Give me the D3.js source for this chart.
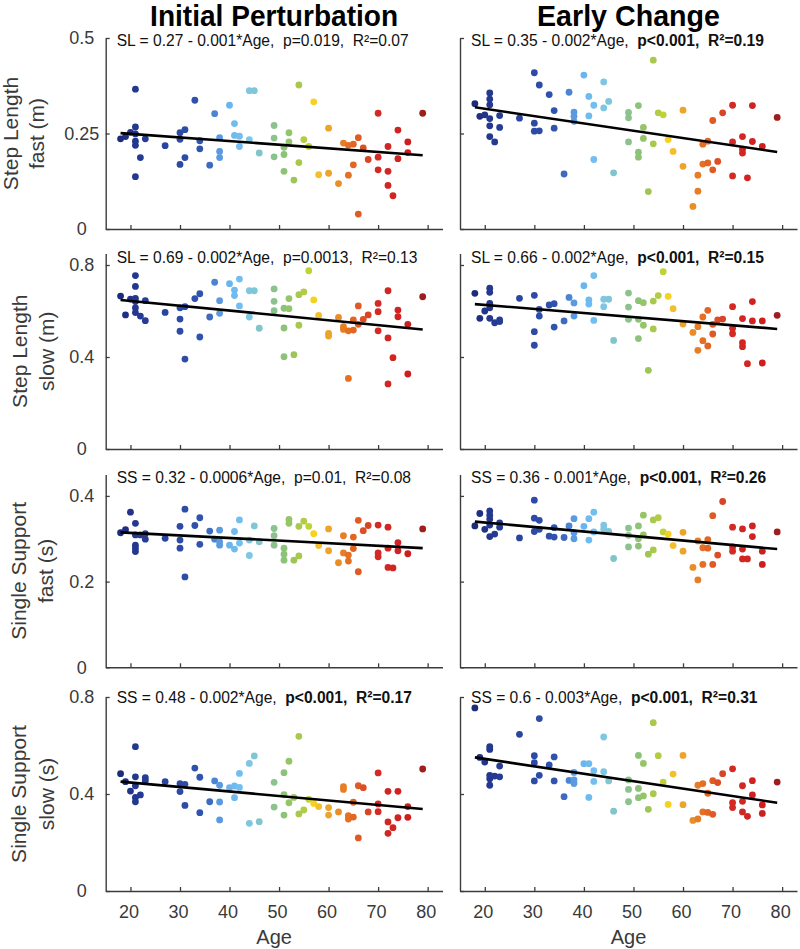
<!DOCTYPE html>
<html><head><meta charset="utf-8">
<script src="https://cdn.jsdelivr.net/npm/d3@7"></script>
<style>
html,body{margin:0;padding:0;background:#fff;}
svg{display:block;font-family:"Liberation Sans",Arial,Helvetica,sans-serif;}
</style></head>
<body><svg id="chart" width="800" height="949"></svg>
<script>
// ---------- data: [age, value] ----------
const slFastInit = [[18,0.236],[19,0.242],[20,0.253],[21,0.366],[21,0.267],[21,0.249],[21,0.230],[21,0.219],[21,0.137],[22,0.187],[23,0.236],[27,0.218],[30,0.252],[30,0.235],[30,0.169],[31,0.260],[31,0.187],[33,0.337],[34,0.231],[34,0.210],[36,0.167],[37,0.302],[38,0.239],[38,0.203],[38,0.187],[40,0.324],[41,0.276],[41,0.245],[42,0.243],[42,0.216],[44,0.362],[45,0.362],[44,0.234],[46,0.199],[49,0.271],[49,0.238],[49,0.189],[51,0.214],[51,0.195],[51,0.151],[52,0.252],[52,0.228],[53,0.128],[54,0.377],[54,0.174],[55,0.234],[56,0.216],[57,0.333],[58,0.142],[60,0.264],[60,0.146],[62,0.119],[63,0.225],[64,0.219],[65,0.222],[66,0.239],[67,0.212],[64,0.141],[65,0.168],[66,0.039],[68,0.182],[70,0.303],[70,0.188],[70,0.155],[72,0.216],[72,0.151],[72,0.114],[73,0.087],[74,0.259],[74,0.184],[76,0.228],[76,0.200],[79,0.303]];
const slFastEarly = [[18,0.328],[19,0.295],[20,0.299],[21,0.356],[21,0.340],[21,0.325],[21,0.289],[21,0.270],[21,0.242],[22,0.228],[23,0.297],[23,0.266],[27,0.290],[30,0.409],[30,0.277],[30,0.256],[31,0.377],[31,0.257],[33,0.352],[34,0.310],[34,0.264],[36,0.144],[37,0.358],[38,0.306],[38,0.295],[38,0.282],[40,0.403],[41,0.347],[41,0.296],[42,0.324],[42,0.182],[44,0.385],[44,0.317],[45,0.334],[46,0.147],[49,0.305],[49,0.291],[49,0.228],[51,0.323],[51,0.201],[51,0.188],[52,0.266],[52,0.237],[53,0.098],[54,0.442],[54,0.223],[55,0.304],[56,0.299],[57,0.234],[58,0.203],[60,0.311],[60,0.164],[62,0.059],[63,0.141],[63,0.099],[64,0.222],[64,0.170],[65,0.230],[65,0.173],[66,0.284],[66,0.155],[67,0.177],[68,0.304],[70,0.324],[70,0.228],[70,0.139],[72,0.242],[72,0.209],[72,0.199],[73,0.134],[74,0.323],[74,0.229],[76,0.216],[79,0.292]];
const slSlowInit = [[18,0.665],[19,0.583],[20,0.652],[21,0.754],[21,0.707],[21,0.655],[21,0.641],[21,0.614],[21,0.593],[22,0.578],[23,0.645],[23,0.558],[27,0.594],[30,0.614],[30,0.565],[30,0.512],[31,0.619],[31,0.391],[33,0.654],[34,0.675],[34,0.487],[36,0.574],[37,0.725],[38,0.645],[38,0.590],[40,0.719],[41,0.691],[41,0.667],[42,0.739],[42,0.622],[44,0.688],[45,0.688],[44,0.574],[46,0.525],[49,0.696],[49,0.642],[49,0.601],[51,0.612],[52,0.610],[52,0.654],[51,0.526],[51,0.401],[53,0.410],[54,0.671],[54,0.538],[55,0.683],[56,0.775],[57,0.648],[58,0.581],[60,0.503],[60,0.491],[62,0.572],[63,0.532],[63,0.520],[64,0.514],[64,0.307],[65,0.517],[65,0.561],[66,0.622],[66,0.542],[67,0.564],[68,0.583],[70,0.633],[70,0.597],[70,0.514],[72,0.688],[72,0.483],[72,0.283],[73,0.397],[74,0.604],[74,0.575],[76,0.542],[76,0.326],[79,0.662]];
const slSlowEarly = [[18,0.677],[19,0.568],[20,0.600],[21,0.699],[21,0.681],[21,0.633],[21,0.614],[21,0.568],[22,0.549],[23,0.561],[23,0.554],[27,0.655],[30,0.668],[30,0.510],[30,0.451],[31,0.607],[31,0.578],[33,0.626],[34,0.632],[34,0.530],[36,0.557],[37,0.659],[38,0.635],[38,0.578],[40,0.710],[41,0.648],[41,0.630],[42,0.754],[42,0.559],[44,0.651],[44,0.619],[45,0.651],[46,0.472],[49,0.678],[49,0.617],[49,0.564],[51,0.645],[51,0.564],[51,0.480],[52,0.636],[52,0.538],[53,0.342],[54,0.643],[54,0.522],[55,0.667],[56,0.771],[57,0.664],[58,0.610],[60,0.543],[62,0.507],[63,0.532],[63,0.429],[64,0.574],[64,0.471],[65,0.603],[65,0.448],[66,0.542],[66,0.500],[67,0.561],[68,0.565],[70,0.619],[70,0.525],[70,0.501],[72,0.567],[72,0.462],[72,0.445],[73,0.371],[74,0.641],[74,0.557],[76,0.557],[76,0.374],[79,0.581]];
const ssFastInit = [[18,0.314],[19,0.321],[20,0.362],[21,0.336],[21,0.309],[21,0.285],[21,0.278],[21,0.270],[22,0.309],[23,0.312],[23,0.299],[27,0.301],[30,0.329],[30,0.297],[30,0.278],[31,0.369],[31,0.211],[33,0.331],[34,0.349],[34,0.287],[36,0.318],[37,0.299],[38,0.320],[38,0.293],[38,0.285],[40,0.285],[41,0.317],[41,0.276],[42,0.344],[42,0.290],[44,0.297],[44,0.261],[45,0.330],[46,0.293],[49,0.324],[49,0.307],[49,0.285],[51,0.278],[51,0.264],[51,0.250],[52,0.345],[52,0.336],[53,0.250],[54,0.329],[54,0.260],[55,0.341],[56,0.329],[57,0.312],[58,0.284],[60,0.323],[60,0.272],[62,0.244],[63,0.307],[63,0.267],[64,0.262],[64,0.248],[65,0.304],[65,0.277],[66,0.343],[66,0.223],[67,0.319],[68,0.331],[70,0.332],[70,0.267],[70,0.258],[72,0.327],[72,0.278],[72,0.233],[73,0.232],[74,0.291],[74,0.272],[76,0.265],[79,0.323]];
const ssFastEarly = [[18,0.330],[19,0.359],[20,0.322],[21,0.365],[21,0.355],[21,0.346],[21,0.332],[21,0.305],[22,0.311],[23,0.337],[23,0.327],[27,0.302],[30,0.390],[30,0.348],[30,0.317],[31,0.343],[31,0.322],[33,0.306],[34,0.326],[34,0.304],[36,0.303],[37,0.330],[38,0.347],[38,0.314],[38,0.300],[40,0.329],[41,0.347],[41,0.297],[42,0.362],[42,0.316],[44,0.332],[44,0.323],[45,0.317],[46,0.254],[49,0.325],[49,0.308],[49,0.281],[51,0.330],[51,0.300],[51,0.283],[52,0.355],[52,0.309],[53,0.264],[54,0.344],[54,0.274],[55,0.349],[56,0.316],[57,0.311],[58,0.284],[60,0.315],[60,0.271],[62,0.233],[63,0.295],[63,0.204],[64,0.279],[64,0.240],[65,0.298],[65,0.278],[66,0.354],[66,0.240],[67,0.262],[68,0.387],[70,0.327],[70,0.281],[70,0.271],[72,0.323],[72,0.276],[72,0.253],[73,0.253],[74,0.330],[74,0.305],[76,0.271],[76,0.240],[79,0.316]];
const ssSlowInit = [[18,0.484],[19,0.451],[20,0.412],[21,0.595],[21,0.471],[21,0.434],[21,0.386],[21,0.368],[22,0.396],[23,0.467],[23,0.455],[27,0.451],[30,0.443],[30,0.410],[31,0.440],[31,0.353],[33,0.507],[34,0.469],[34,0.323],[36,0.368],[37,0.454],[38,0.436],[38,0.367],[38,0.293],[40,0.426],[41,0.433],[41,0.385],[42,0.485],[42,0.427],[44,0.526],[45,0.557],[44,0.279],[46,0.286],[49,0.448],[49,0.346],[51,0.488],[51,0.397],[51,0.313],[52,0.535],[52,0.364],[53,0.386],[54,0.638],[54,0.318],[55,0.334],[56,0.378],[57,0.361],[58,0.348],[60,0.344],[60,0.313],[62,0.326],[63,0.430],[63,0.419],[64,0.311],[64,0.297],[65,0.366],[65,0.305],[66,0.434],[66,0.219],[67,0.426],[68,0.326],[70,0.487],[70,0.359],[70,0.327],[72,0.411],[72,0.285],[72,0.238],[73,0.261],[74,0.411],[74,0.302],[76,0.348],[76,0.304],[79,0.503]];
const ssSlowEarly = [[18,0.755],[19,0.551],[20,0.532],[21,0.595],[21,0.584],[21,0.477],[21,0.463],[21,0.436],[22,0.474],[23,0.515],[23,0.471],[27,0.646],[30,0.558],[30,0.529],[30,0.454],[31,0.711],[31,0.477],[33,0.520],[34,0.553],[34,0.454],[36,0.389],[37,0.456],[38,0.489],[38,0.458],[38,0.443],[40,0.525],[41,0.525],[41,0.386],[42,0.496],[42,0.452],[44,0.635],[44,0.492],[45,0.454],[46,0.329],[49,0.458],[49,0.419],[49,0.368],[51,0.559],[51,0.423],[51,0.385],[52,0.526],[52,0.392],[53,0.337],[54,0.694],[54,0.401],[55,0.558],[56,0.449],[57,0.357],[58,0.482],[60,0.559],[60,0.356],[62,0.291],[63,0.436],[63,0.297],[64,0.443],[64,0.326],[65,0.403],[65,0.324],[66,0.455],[66,0.316],[67,0.447],[68,0.484],[70,0.504],[70,0.364],[70,0.344],[72,0.434],[72,0.370],[72,0.326],[73,0.308],[74,0.455],[74,0.396],[76,0.355],[76,0.320],[79,0.449]];

// regression lines (panel order: row-major, Initial then Early)
const fitIntercept = [0.2681, 0.3531, 0.6858, 0.6619, 0.3259, 0.3589, 0.4843, 0.6062];
const fitSlope     = [-0.00095, -0.001918, -0.0021, -0.00177, -0.000605, -0.00105, -0.00185, -0.003066];
const fitAgeRange  = [18, 79];

// annotation texts
const eqTexts = ["SL = 0.27 - 0.001*Age,", "SL = 0.35 - 0.002*Age,", "SL = 0.69 - 0.002*Age,", "SL = 0.66 - 0.002*Age,",
                 "SS = 0.32 - 0.0006*Age,", "SS = 0.36 - 0.001*Age,", "SS = 0.48 - 0.002*Age,", "SS = 0.6 - 0.003*Age,"];
const pTexts  = ["p=0.019,", "p<0.001,", "p=0.0013,", "p<0.001,", "p=0.01,", "p<0.001,", "p<0.001,", "p<0.001,"];
const r2Texts = ["0.07", "0.19", "0.13", "0.15", "0.08", "0.26", "0.17", "0.31"];
const sigBold = [false, true, false, true, false, true, true, true];

const columnTitles = ["Initial Perturbation", "Early Change"];
const rowLabels = [["Step Length", "fast (m)"], ["Step Length", "slow (m)"], ["Single Support", "fast (s)"], ["Single Support", "slow (s)"]];
const yDomains = [[0, 0.5], [0, 0.85], [0, 0.45], [0, 0.8]];
const yTicks = [[0, 0.25, 0.5], [0, 0.4, 0.8], [0, 0.2, 0.4], [0, 0.4, 0.8]];
const yTickLabels = [["0", "0.25", "0.5"], ["0", "0.4", "0.8"], ["0", "0.2", "0.4"], ["0", "0.4", "0.8"]];
const xDomain = [15, 83];
const xTicks = [20, 30, 40, 50, 60, 70, 80];
const xTickLabels = ["20", "30", "40", "50", "60", "70", "80"];
const xLabel = "Age";

// age -> colour (jet-like)
const colorAges = [18, 21, 27, 31, 34, 36, 37, 38, 40, 42, 44, 46, 49, 51, 53, 55, 56, 57, 58, 60, 62, 64, 66, 68, 70, 76, 79];
const colorHex  = ["#1d2b7c", "#24388f", "#2a45a0", "#2d4ca8", "#3054ad", "#3e6bbf", "#4a84d2", "#5a9ae0", "#6bb5ee", "#73bef0", "#7ec6e2", "#80c5cc", "#8cc28e", "#8dc379", "#9dc657", "#b2cc45", "#c0d23a", "#f6d120", "#f3bf2c", "#eda42b", "#e98d28", "#e56f23", "#df5a25", "#d84427", "#d42a25", "#ce1f1f", "#9e1e1e"];

// ---------- layout ----------
const panelData = [slFastInit, slFastEarly, slSlowInit, slSlowEarly, ssFastInit, ssFastEarly, ssSlowInit, ssSlowEarly];
const colRange = [[105.7, 442.5], [460, 797]];
const rowRange = [[229, 38], [449, 253.5], [667.3, 474.5], [891, 697]];
const annotBaseline = [46, 263, 483, 703];
const rowLabelX = [[18, 44], [27, 54], [26, 53], [26, 54]];

const axisColor = "#3c3c3c";
const svg = d3.select("#chart");
const color = d3.scaleLinear().domain(colorAges).range(colorHex).interpolate(d3.interpolateRgb).clamp(true);

for (let r = 0; r < 4; r++) {
  for (let c = 0; c < 2; c++) {
    const idx = r * 2 + c;
    const x = d3.scaleLinear().domain(xDomain).range(colRange[c]);
    const y = d3.scaleLinear().domain(yDomains[r]).range(rowRange[r]);
    const g = svg.append("g");

    // x axis
    const xa = g.append("g").attr("transform", `translate(0,${rowRange[r][0]})`)
      .call(d3.axisBottom(x).tickValues(xTicks).tickSizeInner(-4).tickSizeOuter(0).tickPadding(14)
        .tickFormat((d, i) => r === 3 ? xTickLabels[i] : ""));
    // y axis
    const ya = g.append("g").attr("transform", `translate(${colRange[c][0]},0)`)
      .call(d3.axisLeft(y).tickValues(yTicks[r]).tickSizeInner(-4).tickSizeOuter(0).tickPadding(6)
        .tickFormat((d, i) => c === 0 ? yTickLabels[r][i] : ""));
    [xa, ya].forEach(a => {
      a.select(".domain").attr("stroke", axisColor).attr("stroke-width", 1.4);
      a.selectAll(".tick line").attr("stroke", axisColor).attr("stroke-width", 1.3);
      a.selectAll(".tick text").attr("fill", "#3a3a3a").attr("font-size", 18)
        .attr("font-family", "'Liberation Sans', Arial, sans-serif");
    });
    ya.selectAll(".tick text").attr("text-anchor", "middle").attr("x", -24);
    xa.selectAll(".tick text").attr("x", -2);

    // points
    g.append("g").selectAll("circle").data(panelData[idx]).join("circle")
      .attr("cx", d => x(d[0])).attr("cy", d => y(d[1])).attr("r", 3.4)
      .attr("fill", d => color(d[0]));

    // regression line
    const fit = a => fitIntercept[idx] + fitSlope[idx] * a;
    g.append("line")
      .attr("x1", x(fitAgeRange[0])).attr("y1", y(fit(fitAgeRange[0])))
      .attr("x2", x(fitAgeRange[1])).attr("y2", y(fit(fitAgeRange[1])))
      .attr("stroke", "#000").attr("stroke-width", 2.6);

    // annotation
    const t = g.append("text").attr("x", colRange[c][0] + 11).attr("y", annotBaseline[r])
      .attr("font-size", 15.6).attr("fill", "#111").style("white-space", "pre");
    const bw = sigBold[idx] ? "bold" : "normal";
    t.append("tspan").text(eqTexts[idx] + "  ");
    t.append("tspan").attr("font-weight", bw).text(pTexts[idx] + "  R\u00B2=" + r2Texts[idx]);

    // x label
    if (r === 3) {
      g.append("text").attr("x", (colRange[c][0] + colRange[c][1]) / 2).attr("y", 944)
        .attr("text-anchor", "middle").attr("font-size", 20).attr("fill", "#3a3a3a").text(xLabel);
    }
  }
  // row labels
  const cy = (rowRange[r][0] + rowRange[r][1]) / 2;
  rowLabels[r].forEach((txt, k) => {
    svg.append("text").attr("transform", `translate(${rowLabelX[r][k]},${cy}) rotate(-90)`)
      .attr("text-anchor", "middle").attr("font-size", 21).attr("fill", "#3a3a3a").text(txt);
  });
}

// column titles
const titleLen = [248, 183];
columnTitles.forEach((txt, c) => {
  svg.append("text").attr("x", (colRange[c][0] + colRange[c][1]) / 2).attr("y", 26)
    .attr("text-anchor", "middle").attr("font-size", 30).attr("font-weight", "bold").attr("fill", "#000")
    .attr("textLength", titleLen[c]).attr("lengthAdjust", "spacingAndGlyphs").text(txt);
});
</script></body></html>
